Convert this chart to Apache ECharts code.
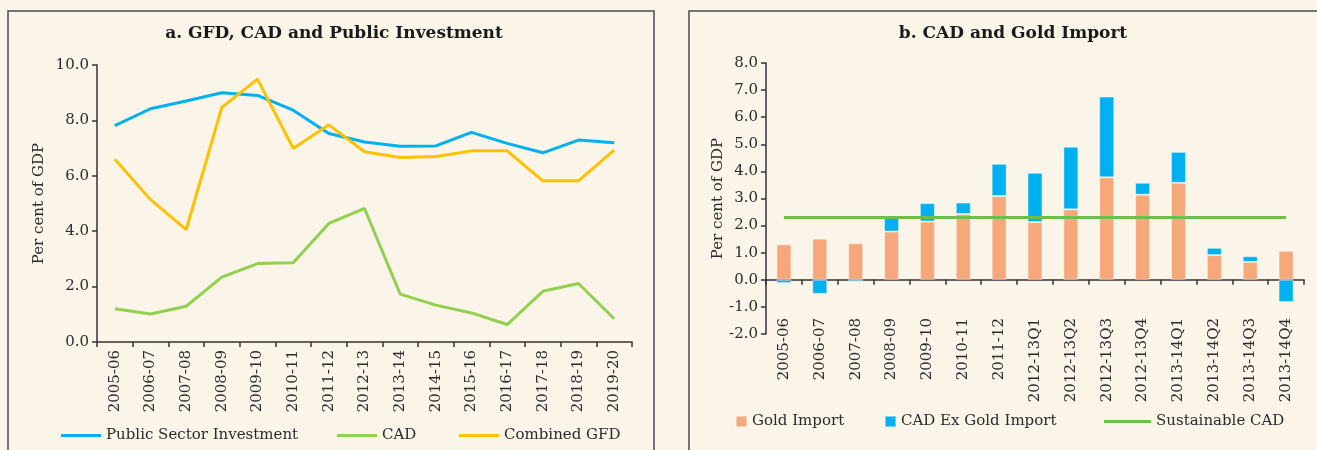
<!DOCTYPE html>
<html>
<head>
<meta charset="utf-8">
<script src="https://cdn.jsdelivr.net/npm/echarts@6/dist/echarts.min.js"></script>
<style>
  html, body { margin: 0; padding: 0; background: #FAF4E9; }
  #main { width: 1317px; height: 450px; }
</style>
</head>
<body>
<div id="main"></div>
<script>
  // panel a
  let yearsA = ['2005-06', '2006-07', '2007-08', '2008-09', '2009-10', '2010-11', '2011-12', '2012-13',
    '2013-14', '2014-15', '2015-16', '2016-17', '2017-18', '2018-19', '2019-20'];
  let publicInvest = [7.81, 8.42, 8.70, 9.00, 8.90, 8.37, 7.53, 7.22, 7.07, 7.08, 7.57, 7.17, 6.83, 7.29, 7.19];
  let cadA = [1.20, 1.01, 1.29, 2.34, 2.83, 2.86, 4.28, 4.82, 1.73, 1.33, 1.05, 0.63, 1.83, 2.11, 0.84];
  let combinedGfd = [6.60, 5.14, 4.06, 8.47, 9.49, 6.99, 7.84, 6.87, 6.66, 6.70, 6.90, 6.90, 5.82, 5.82, 6.93];

  // panel b
  let periodsB = ['2005-06', '2006-07', '2007-08', '2008-09', '2009-10', '2010-11', '2011-12', '2012-13Q1',
    '2012-13Q2', '2012-13Q3', '2012-13Q4', '2013-14Q1', '2013-14Q2', '2013-14Q3', '2013-14Q4'];
  let goldImport = [1.31, 1.52, 1.35, 1.78, 2.15, 2.43, 3.09, 2.13, 2.60, 3.78, 3.14, 3.58, 0.91, 0.66, 1.07];
  let cadExGold = [-0.12, -0.52, -0.07, 0.50, 0.68, 0.42, 1.19, 1.82, 2.31, 2.98, 0.44, 1.14, 0.27, 0.21, -0.82];
  let sustainableCad = [2.3, 2.3, 2.3, 2.3, 2.3, 2.3, 2.3, 2.3, 2.3, 2.3, 2.3, 2.3, 2.3, 2.3, 2.3];

  let font = 'DejaVu Serif';
  let ink = '#2b2b2b';
  let axisColor = '#333';

  function valueAxis(gridIndex, min, max, interval, nameGap) {
    return {
      type: 'value',
      gridIndex: gridIndex,
      min: min,
      max: max,
      interval: interval,
      name: 'Per cent of GDP',
      nameLocation: 'middle',
      nameRotate: 90,
      nameGap: nameGap,
      nameTextStyle: {color: ink, fontFamily: font, fontSize: 15},
      axisLine: {show: true, lineStyle: {color: axisColor, width: 1.5}},
      axisTick: {show: true, length: 5, lineStyle: {color: axisColor, width: 1.5}},
      axisLabel: {
        color: ink, fontFamily: font, fontSize: 15, margin: 8,
        formatter: v => v.toFixed(1)
      },
      splitLine: {show: false}
    }
  }

  function categoryAxis(gridIndex, data, margin) {
    return {
      type: 'category',
      gridIndex: gridIndex,
      data: data,
      boundaryGap: true,
      axisLine: {show: true, onZero: true, lineStyle: {color: axisColor, width: 1.5}},
      axisTick: {show: true, length: 5, alignWithLabel: false, lineStyle: {color: axisColor, width: 1.5}},
      axisLabel: {color: ink, fontFamily: font, fontSize: 15, rotate: 90, margin: margin, interval: 0}
    }
  }

  // one legend per item so each sits where the original puts it
  function legendAt(name, left, top, w, h) {
    return {
      data: [{name: name, icon: 'rect'}],
      left: left,
      top: top,
      padding: 0,
      itemWidth: w,
      itemHeight: h,
      itemGap: 0,
      textStyle: {color: ink, fontFamily: font, fontSize: 15},
      selectedMode: false
    }
  }

  let chart = echarts.init(document.getElementById('main'));
  chart.setOption({
    backgroundColor: '#FAF4E9',
    animation: false,
    title: [
      {
        text: 'a. GFD, CAD and Public Investment',
        left: 329, top: 20, textAlign: 'center',
        textStyle: {color: '#1a1a1a', fontFamily: font, fontWeight: 'bold', fontSize: 17}
      },
      {
        text: 'b. CAD and Gold Import',
        left: 1008, top: 20, textAlign: 'center',
        textStyle: {color: '#1a1a1a', fontFamily: font, fontWeight: 'bold', fontSize: 17}
      }
    ],
    graphic: [
      {type: 'rect', shape: {x: 8, y: 11, width: 646, height: 470}, style: {fill: 'none', stroke: '#4a4a4a', lineWidth: 1.5}, silent: true},
      {type: 'rect', shape: {x: 689, y: 11, width: 700, height: 470}, style: {fill: 'none', stroke: '#4a4a4a', lineWidth: 1.5}, silent: true}
    ],
    legend: [
      legendAt('Public Sector Investment', 61, 428, 40, 3),
      legendAt('CAD', 337, 428, 40, 3),
      legendAt('Combined GFD', 459, 428, 40, 3),
      legendAt('Gold Import', 735, 414, 11, 11),
      legendAt('CAD Ex Gold Import', 884, 414, 11, 11),
      legendAt('Sustainable CAD', 1104, 414, 47, 3)
    ],
    grid: [
      {left: 97, top: 65, width: 535, height: 277},
      {left: 766, top: 63, width: 538, height: 271}
    ],
    xAxis: [
      categoryAxis(0, yearsA, 8),
      categoryAxis(1, periodsB, -16)
    ],
    yAxis: [
      valueAxis(0, 0, 10, 2, 50),
      valueAxis(1, -2, 8, 1, 38)
    ],
    series: [
      {
        name: 'Public Sector Investment', type: 'line', xAxisIndex: 0, yAxisIndex: 0,
        data: publicInvest, symbol: 'none', color: '#00B0F0', lineStyle: {width: 3}
      },
      {
        name: 'CAD', type: 'line', xAxisIndex: 0, yAxisIndex: 0,
        data: cadA, symbol: 'none', color: '#92D050', lineStyle: {width: 3}
      },
      {
        name: 'Combined GFD', type: 'line', xAxisIndex: 0, yAxisIndex: 0,
        data: combinedGfd, symbol: 'none', color: '#FFC000', lineStyle: {width: 3}
      },
      {
        name: 'Gold Import', type: 'bar', xAxisIndex: 1, yAxisIndex: 1, stack: 'cad',
        data: goldImport, barWidth: 15, color: '#F7A87B',
        itemStyle: {borderColor: 'rgba(255,255,255,0.45)', borderWidth: 1}
      },
      {
        name: 'CAD Ex Gold Import', type: 'bar', xAxisIndex: 1, yAxisIndex: 1, stack: 'cad',
        data: cadExGold, barWidth: 15, color: '#00B0F0',
        itemStyle: {borderColor: 'rgba(255,255,255,0.45)', borderWidth: 1}
      },
      {
        name: 'Sustainable CAD', type: 'line', xAxisIndex: 1, yAxisIndex: 1,
        data: sustainableCad, symbol: 'none', color: '#6DBE4B', lineStyle: {width: 3}, z: 5
      }
    ]
  });
</script>
</body>
</html>
